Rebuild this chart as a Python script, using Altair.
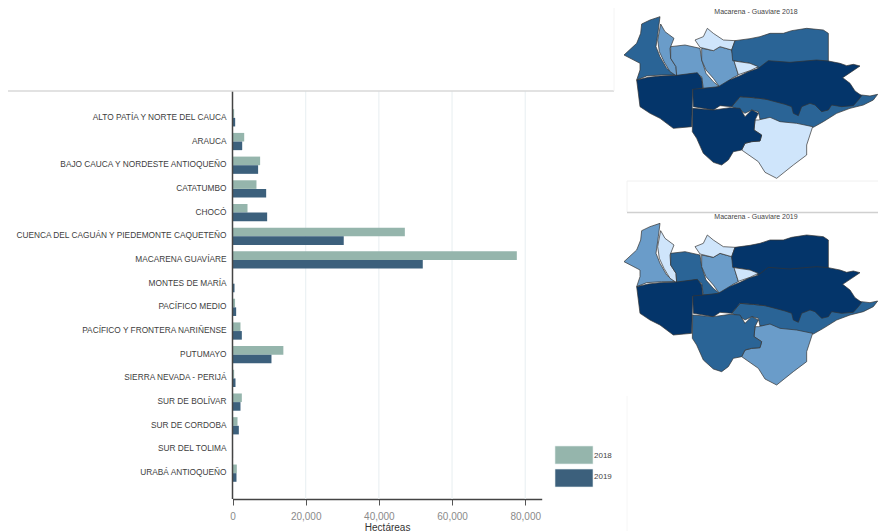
import altair as alt

W, H = 870, 523

regions = ["ALTO PATÍA Y NORTE DEL CAUCA", "ARAUCA", "BAJO CAUCA Y NORDESTE ANTIOQUEÑO", "CATATUMBO", "CHOCÓ",
           "CUENCA DEL CAGUÁN Y PIEDEMONTE CAQUETEÑO", "MACARENA GUAVÍARE", "MONTES DE MARÍA", "PACÍFICO MEDIO",
           "PACÍFICO Y FRONTERA NARIÑENSE", "PUTUMAYO", "SIERRA NEVADA - PERIJÁ", "SUR DE BOLÍVAR",
           "SUR DE CORDOBA", "SUR DEL TOLIMA", "URABÁ ANTIOQUEÑO"]
values_2018 = [450, 3200, 7550, 6550, 4100, 47100, 77700, 100, 700, 2180, 13900, 450, 2550, 1370, 50, 1180]
values_2019 = [730, 2650, 7000, 9200, 9470, 30400, 52000, 550, 1000, 2550, 10650, 820, 2180, 1730, 150, 1090]
years = ["2018", "2019"]
year_colors = ["#95b5ac", "#3c607c"]
ticks = [0, 20000, 40000, 60000, 80000]
grid_ticks = [20000, 40000, 60000, 80000]

map_colors = ["#cfe5fb", "#6a9cc9", "#2a6496", "#04356a"]
tiers_2018 = [2, 1, 1, 1, 0, 2, 0, 2, 0, 3, 3, 3]
tiers_2019 = [1, 0, 2, 1, 0, 3, 0, 2, 1, 3, 3, 2]
map_gap = 620  # vertical distance between both maps, in map units
# outlines in map units (draw order: under-lying shapes first)
shapes = [
    [(150,50),(120,60),(95,72),(92,100),(80,130),(42,165),(90,190),(90,210),(80,240),(110,228),(155,225),(195,225),(170,205),(150,170),(138,140),(145,90)],
    [(152,72),(165,95),(192,115),(180,145),(182,175),(198,200),(200,228),(180,215),(162,185),(148,155),(143,120)],
    [(182,140),(225,135),(270,145),(275,180),(288,220),(310,245),(328,260),(305,265),(280,265),(275,230),(255,220),(225,225),(200,228),(198,200),(182,175)],
    [(275,145),(310,152),(330,140),(365,150),(372,180),(385,225),(365,235),(345,255),(328,260),(310,235),(288,210),(275,180)],
    [(292,85),(310,100),(340,120),(375,122),(365,150),(330,140),(310,152),(270,142),(255,120),(280,110)],
    [(375,122),(420,116),(450,110),(480,100),(520,100),(545,92),(590,85),(640,90),(655,100),(655,190),(540,195),(480,195),(445,205),(420,190),(368,182),(365,150)],
    [(372,183),(420,190),(445,200),(420,212),(385,224)],
    [(365,320),(390,290),(430,293),(465,297),(525,300),(620,285),(735,285),(755,285),(780,288),(803,283),(790,300),(760,315),(720,325),(680,340),(640,365),(610,382),(570,378),(530,372),(505,368),(480,358),(450,358),(445,335),(425,330),(405,340),(390,330)],
    [(445,360),(480,352),(510,365),(560,370),(608,380),(590,435),(590,465),(550,495),(500,535),(465,517),(445,485),(395,450),(405,430),(425,425),(450,423),(455,405),(432,390),(435,360)],
    [(248,265),(280,265),(325,260),(358,240),(390,227),(415,215),(445,205),(475,182),(540,187),(585,183),(620,180),(655,183),(690,190),(710,197),(730,193),(750,198),(725,215),(698,233),(720,250),(735,273),(755,287),(745,300),(730,317),(695,320),(665,315),(655,330),(635,335),(615,315),(600,310),(575,320),(565,347),(550,340),(545,320),(525,313),(465,297),(430,293),(390,290),(365,320),(330,317),(310,330),(250,320)],
    [(80,240),(90,320),(120,340),(150,355),(190,385),(245,380),(248,268),(278,265),(275,235),(262,218),(200,226),(150,228),(115,232)],
    [(248,325),(310,330),(360,323),(390,325),(405,350),(425,330),(445,340),(435,360),(432,390),(455,405),(450,423),(425,425),(405,430),(395,450),(370,455),(355,480),(335,495),(310,487),(280,460),(260,415),(247,395)],
]


def features(tiers, gap):
    return [{"type": "Feature", "properties": {"tier": t},
             "geometry": {"type": "Polygon", "coordinates": [[[p[0], p[1] + gap] for p in s + [s[0]]]]}}
            for s, t in zip(shapes, tiers)]


def map_layer(tiers, gap):
    return (alt.Chart(alt.Data(values=features(tiers, gap)))
            .mark_geoshape(stroke="#333333", strokeWidth=0.7)
            .encode(color=alt.Color("properties.tier:O",
                                    scale=alt.Scale(domain=[0, 1, 2, 3], range=map_colors), legend=None))
            .project(type="identity", scale=1 / 3, translate=[602, -8]))


rows = [{"region": r, "year": y, "value": v}
        for r, a, b in zip(regions, values_2018, values_2019)
        for y, v in ((years[0], a), (years[1], b))]

x_scale = alt.Scale(domain=[0, 84500], range=[224.5, 533.7], nice=False)
y_scale = alt.Scale(domain=regions, range=[98, 477], paddingInner=0.27, paddingOuter=0.135)

grid = (alt.Chart(alt.Data(values=[{"t": t} for t in grid_ticks]))
        .mark_rule(color="#ebf1f3", strokeWidth=1.2)
        .encode(x=alt.X("t:Q", scale=x_scale, axis=None), y=alt.value(83), y2=alt.value(491)))

bars = (alt.Chart(alt.Data(values=rows)).mark_bar(size=8.6)
        .encode(
            x=alt.X("value:Q", scale=x_scale,
                    axis=alt.Axis(values=ticks, labelExpr="format(datum.value, ',')", title="Hectáreas", grid=False,
                                  offset=491 - H, labelFlush=False, labelOverlap=False,
                                  domainColor="#444444", domainWidth=1.5, tickColor="#555555", tickSize=6,
                                  labelColor="#8a8a8a", labelFontSize=10, labelFont="Liberation Sans",
                                  titleFont="Liberation Sans", titleFontSize=10, titleFontWeight="normal",
                                  titleColor="#333333", titlePadding=1, labelPadding=6)),
            y=alt.Y("region:N", scale=y_scale,
                    axis=alt.Axis(title=None, domain=False, ticks=False, offset=-224.5, labelPadding=6.5,
                                  labelColor="#404040", labelFontSize=8.3, labelFont="Liberation Sans",
                                  labelLimit=300)),
            yOffset=alt.YOffset("year:N", sort=years),
            color=alt.Color("year:N", scale=alt.Scale(domain=years, range=year_colors), legend=None)))

y_axis_line = (alt.Chart(alt.Data(values=[{"a": 1}])).mark_rule(color="#444444", strokeWidth=1.5)
               .encode(x=alt.value(224.5), y=alt.value(83), y2=alt.value(491)))


def hline(y, x1, x2, color, w):
    return (alt.Chart(alt.Data(values=[{"a": 1}])).mark_rule(color=color, strokeWidth=w)
            .encode(x=alt.value(x1), x2=alt.value(x2), y=alt.value(y)))


def vline(x, y1, y2, color, w):
    return (alt.Chart(alt.Data(values=[{"a": 1}])).mark_rule(color=color, strokeWidth=w)
            .encode(x=alt.value(x), y=alt.value(y1), y2=alt.value(y2)))


legend_y = alt.Scale(domain=years, range=[438, 479], paddingInner=0.22, paddingOuter=0)
legend_bars = (alt.Chart(alt.Data(values=[{"year": y} for y in years])).mark_bar(stroke="#e6eeee", strokeWidth=0.6)
               .encode(x=alt.value(547), x2=alt.value(585),
                       y=alt.Y("year:N", scale=legend_y, axis=None),
                       color=alt.Color("year:N", scale=alt.Scale(domain=years, range=year_colors), legend=None)))
legend_text = (alt.Chart(alt.Data(values=[{"year": y} for y in years]))
               .mark_text(align="left", baseline="middle", fontSize=8, font="Liberation Sans", color="#444444")
               .encode(x=alt.value(586), y=alt.Y("year:N", scale=legend_y, axis=None), text="year:N"))


def map_title(txt, y):
    return (alt.Chart(alt.Data(values=[{"t": txt}]))
            .mark_text(align="center", baseline="middle", fontSize=7, font="Liberation Sans", color="#444444")
            .encode(x=alt.value(748), y=alt.value(y), text="t:N"))


chart = (alt.layer(
    grid, bars, y_axis_line,
    hline(83, 0, 606, "#d8d8d8", 1.6),
    vline(606, 0, 83, "#f4f4f4", 1),
    hline(173, 619, W, "#f0f0f0", 1),
    vline(619, 173, 204, "#f2f2f2", 1),
    hline(204.5, 619, W, "#d0d0d0", 1.6),
    vline(619, 388, H, "#f6f6f6", 1),
    legend_bars, legend_text,
    map_layer(tiers_2018, 0),
    map_layer(tiers_2019, map_gap),
    map_title("Macarena - Guaviare 2018", 4),
    map_title("Macarena - Guaviare 2019", 208.5),
).resolve_scale(x="independent", y="independent", color="independent", yOffset="independent")
 .properties(width=W, height=H, padding=0, autosize=alt.AutoSizeParams(type="none"))
 .configure_view(stroke=None))

chart.save("out.html", embed_options={"renderer": "svg", "actions": False})
